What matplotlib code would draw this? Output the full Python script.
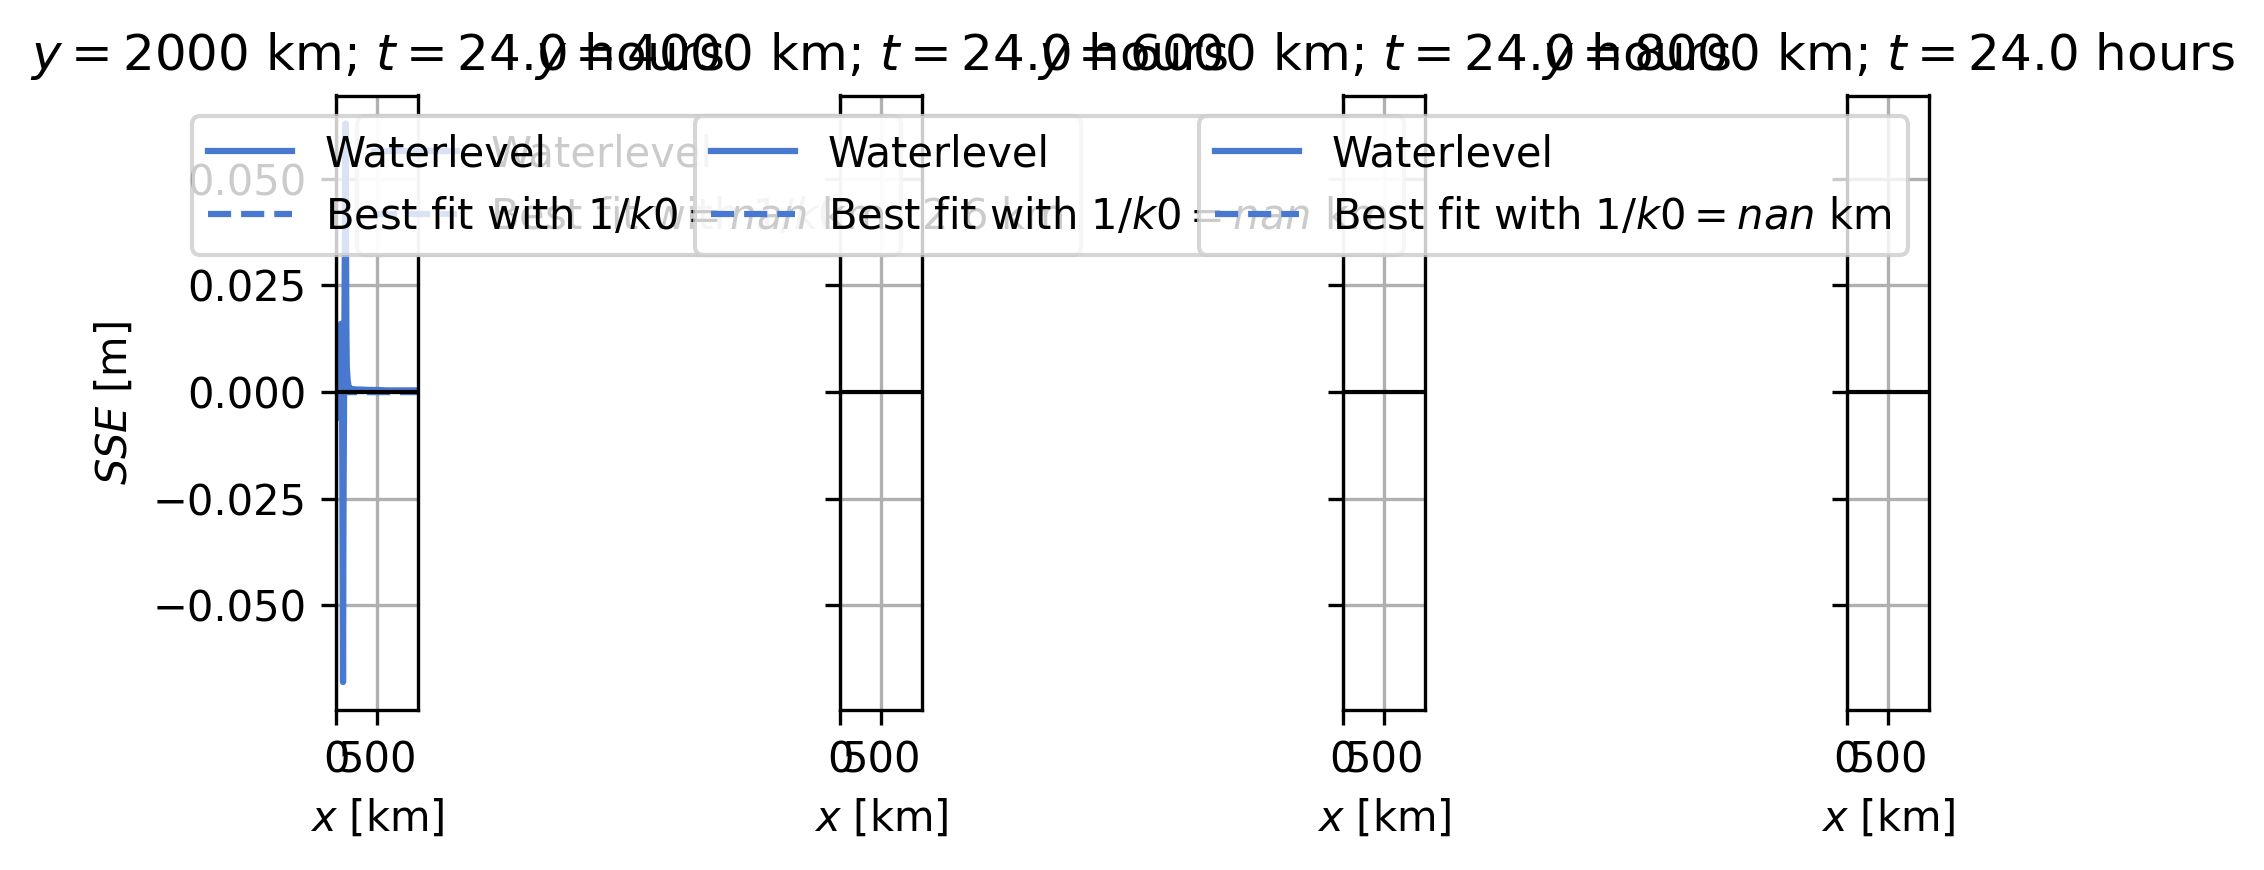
import numpy as np
import matplotlib
matplotlib.use("Agg")
import matplotlib.pyplot as plt

# ---- data ----
y_positions = [2000, 4000, 6000, 8000]          # km
t_hours = [24.0, 24.0, 24.0, 24.0]
fit_scales = [12.6, np.nan, np.nan, np.nan]     # 1/k0 in km

x_km = [40, 50, 60, 70, 75, 80, 85, 90, 100, 110, 115, 120, 125, 130, 140,
        150, 160, 180, 200, 250, 300, 400, 500, 600, 700, 800, 900, 990]
waterlevel_y2000 = [-0.006, 0.008, 0.016, 0.010, -0.010, -0.040, -0.068, -0.030,
                    0.010, 0.045, 0.063, 0.040, 0.015, 0.006, 0.003, 0.0015,
                    0.0010, 0.0008, 0.0007, 0.0006, 0.0006, 0.0005, 0.0005,
                    0.0004, 0.0004, 0.0004, 0.0004, 0.0004]
fit_y2000 = [0.0020, 0.0012, 0.0007, 0.0004, 0.0003, 0.0002, 0.0002, 0.0001,
             0.0001, 0.0, 0.0, 0.0, 0.0, 0.0, 0.0, 0.0, 0.0, 0.0, 0.0, 0.0,
             0.0, 0.0, 0.0, 0.0, 0.0, 0.0, 0.0, 0.0]
empty_series = [np.nan] * len(x_km)

waterlevels = [waterlevel_y2000, empty_series, empty_series, empty_series]
fits = [fit_y2000, empty_series, empty_series, empty_series]
legend_locs = ["upper left", "upper right", "upper right", "upper right"]

color = "#4878d0"

W, H = 2264, 870
fig = plt.figure(figsize=(W / 300, H / 300), dpi=300)

ax_left_px = [336, 840, 1343, 1847]
ax_w_px = 82
ax_top_px, ax_bot_px = 95.5, 710

axes = []
for i in range(4):
    if i == 0:
        ax = fig.add_axes([ax_left_px[i] / W, 1 - ax_bot_px / H,
                           ax_w_px / W, (ax_bot_px - ax_top_px) / H])
    else:
        ax = fig.add_axes([ax_left_px[i] / W, 1 - ax_bot_px / H,
                           ax_w_px / W, (ax_bot_px - ax_top_px) / H],
                          sharey=axes[0])
        ax.tick_params(labelleft=False)
    axes.append(ax)

for i, ax in enumerate(axes):
    ax.plot(x_km, waterlevels[i], color=color, lw=1.5, label="Waterlevel")
    ax.plot(x_km, fits[i], color=color, lw=1.5, ls="--",
            label=f"Best fit with $1/k0 = {fit_scales[i]:.1f}$ km")
    ax.axhline(0, color="k", lw=1)
    ax.grid(True)
    ax.set_xlim(0, 990)
    ax.set_title(f"$y = {y_positions[i]}$ km; $t = {t_hours[i]}$ hours")
    ax.set_xlabel("$x$ [km]")
    ax.legend(loc=legend_locs[i])

axes[0].set_ylabel("$SSE$ [m]")

fig.savefig("out.png", dpi=300)
